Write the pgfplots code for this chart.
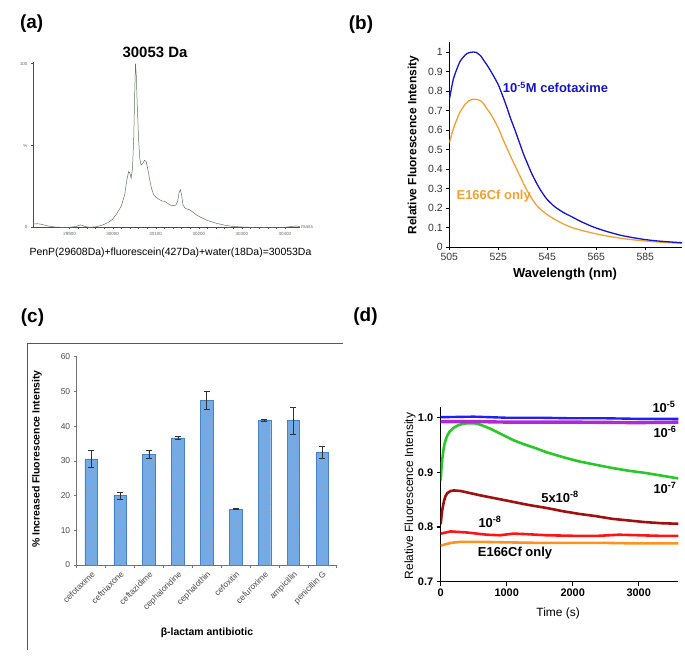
\documentclass[border=0pt]{standalone}
\usepackage{pgfplots}
\pgfplotsset{compat=1.18}
\usetikzlibrary{patterns.meta}
\usepackage{fontspec}
\setmainfont{Liberation Sans}
\definecolor{msgreen}{RGB}{90,120,90}
\definecolor{bblue}{RGB}{20,20,200}
\definecolor{borange}{RGB}{245,160,48}
\definecolor{barfill}{RGB}{115,172,232}
\definecolor{bardraw}{RGB}{70,130,200}
\definecolor{dblue}{RGB}{30,30,255}
\definecolor{dmag}{RGB}{180,40,210}
\definecolor{dgreen}{RGB}{40,200,40}
\definecolor{dred}{RGB}{160,16,16}
\definecolor{red2}{RGB}{255,20,20}
\definecolor{dorange}{RGB}{255,145,30}
\begin{document}
\begin{tikzpicture}
\useasboundingbox (0,0) rectangle (685bp,-660bp);
% ---------------- panel labels
\node[font=\bfseries\fontsize{19}{22}\selectfont] at (31.7bp,-24bp) {(a)};
\node[font=\bfseries\fontsize{19}{22}\selectfont] at (361bp,-25bp) {(b)};
\node[font=\bfseries\fontsize{19}{22}\selectfont] at (32.5bp,-318bp) {(c)};
\node[font=\bfseries\fontsize{19}{22}\selectfont] at (365.5bp,-317bp) {(d)};

% ---------------- panel (a)
\begin{axis}[
  at={(33bp,-227.3bp)}, anchor=south west, scale only axis,
  width=267bp, height=165.3bp,
  xmin=29815, xmax=30435, ymin=0, ymax=101,
  axis x line=bottom, axis y line=left,
  axis line style={-, black!70, line width=0.4pt},
  scaled x ticks=false, scaled y ticks=false,
  xtick={29900,30000,30100,30200,30300,30400},
  xticklabels={29900,30000,30100,30200,30300,30400},
  minor x tick num=4,
  ytick={0,50,100}, yticklabels={0,\%,100},
  tick align=outside, major tick length=2bp, minor tick length=1.5bp,
  every tick/.style={black!70, line width=0.3pt},
  ticklabel style={font=\fontsize{4.5}{5}\selectfont, text=black!60},
  xlabel={mass},
  xlabel style={at={(axis description cs:1,0)}, anchor=west, font=\fontsize{5}{6}\selectfont, text=black!60, inner sep=1bp},
]
\addplot[color=msgreen, line width=0.5pt] coordinates {
(29815,2.0) (29825,2.2) (29835,1.8) (29850,0.8) (29865,0.2) (29880,0) (29900,0)
(29915,0.5) (29925,1.5) (29935,0.6) (29945,0) (29960,0.3) (29975,1.2) (29990,3.0)
(30000,5.0) (30010,8.5) (30020,13) (30028,20) (30033,29) (30037,34) (30040,33)
(30043,30) (30046,36) (30049,55) (30051,80) (30053,100) (30055,92) (30057,75)
(30060,55) (30063,42) (30066,38) (30070,39) (30074,41) (30078,40) (30082,35)
(30086,29) (30090,24) (30095,20) (30100,18.5) (30108,17) (30115,16) (30120,16)
(30126,15) (30133,13.6) (30140,13.2) (30147,13.6) (30151,16) (30154,21) (30157,23)
(30160,20) (30163,14) (30167,12) (30172,11.2) (30178,10.8) (30185,9.5) (30195,7.5)
(30205,6) (30220,4.2) (30240,2.5) (30260,1.3) (30280,0.5) (30300,0.2) (30320,0)
(30400,0) (30415,0.5) (30425,0.8) (30435,0.5)};
\end{axis}
\node[font=\bfseries\fontsize{15}{18}\selectfont] at (155bp,-52bp) {30053 Da};
\node[font=\fontsize{10.5}{12}\selectfont] at (170.5bp,-253bp) {PenP(29608Da)+fluorescein(427Da)+water(18Da)=30053Da};

% ---------------- panel (b)
\begin{axis}[
  at={(449.3bp,-247bp)}, anchor=south west, scale only axis,
  width=232.7bp, height=204.75bp,
  xmin=505, xmax=600, ymin=0, ymax=1.05,
  axis x line=bottom, axis y line=left,
  axis line style={-, black, line width=0.6pt},
  xtick={505,525,545,565,585}, xticklabels={505,525,545,565,585},
  ytick={0,0.1,0.2,0.3,0.4,0.5,0.6,0.7,0.8,0.9,1},
  yticklabels={0,0.1,0.2,0.3,0.4,0.5,0.6,0.7,0.8,0.9,1},
  tick align=outside, major tick length=3bp,
  every tick/.style={black, line width=0.5pt},
  ticklabel style={font=\fontsize{10.5}{12}\selectfont, text=black!80},
  ylabel={Relative Fluorescence Intensity},
  ylabel style={at={(axis description cs:-0.155,0.498)}, anchor=center, font=\bfseries\fontsize{12}{14}\selectfont},
  xlabel={Wavelength (nm)},
  xlabel style={at={(axis description cs:0.497,-0.132)}, anchor=center, font=\bfseries\fontsize{13}{15}\selectfont},
]
\addplot[color=borange, line width=1.3pt, smooth, tension=0.4] coordinates {
(505,0.533) (506.5,0.60) (508,0.652) (509.5,0.695) (511.4,0.73) (513,0.75) (514.8,0.758)
(516,0.757) (517.5,0.752) (519,0.735) (520.2,0.712) (522,0.68) (523.6,0.644) (525,0.61)
(527,0.55) (530.4,0.455) (533.8,0.365) (535.5,0.32) (537.2,0.28) (539,0.243) (540.6,0.214)
(542.5,0.19) (545,0.166) (548,0.142) (551.6,0.118) (555,0.10) (558.5,0.087) (562,0.076)
(565,0.067) (570,0.055) (575,0.045) (580,0.037) (585,0.031) (590,0.026) (595,0.022) (600,0.019)};
\addplot[color=bblue, line width=1.3pt, smooth, tension=0.4] coordinates {
(505,0.755) (506.6,0.858) (508,0.91) (509.4,0.952) (510.8,0.975) (512.1,0.991) (513.5,0.998)
(514.8,1.0) (516,0.998) (516.8,0.991) (518,0.978) (518.9,0.96) (520.2,0.937) (521.6,0.909)
(523.3,0.872) (525,0.832) (526.7,0.778) (528.4,0.72) (530,0.66) (531.8,0.60) (533.5,0.54)
(535.2,0.48) (536.9,0.428) (538.6,0.378) (540.3,0.335) (542,0.297) (543.5,0.268) (545,0.243)
(548,0.207) (551.6,0.177) (555,0.155) (558.5,0.132) (562,0.112) (565,0.097) (570,0.077)
(575,0.06) (580,0.048) (585,0.038) (590,0.031) (595,0.026) (600,0.022)};
\end{axis}
\node[font=\bfseries\fontsize{13}{15}\selectfont, text=bblue] at (555.5bp,-87.6bp) {10\textsuperscript{-5}M cefotaxime};
\node[font=\bfseries\fontsize{13}{15}\selectfont, text=borange] at (493.7bp,-196bp) {E166Cf only};

% ---------------- panel (c)
\draw[black!65, line width=0.6pt] (27.7bp,-650bp) -- (27.7bp,-343.3bp) -- (343bp,-343.3bp);
\begin{axis}[
  at={(76.7bp,-565bp)}, anchor=south west, scale only axis,
  width=260bp, height=208.3bp,
  xmin=-0.5, xmax=8.5, ymin=0, ymax=60,
  axis x line=bottom, axis y line=left,
  axis line style={-, black!55, line width=0.5pt},
  ytick={0,10,20,30,40,50,60}, yticklabels={0,10,20,30,40,50,60},
  xtick={0,1,2,3,4,5,6,7,8},
  xticklabels={cefotaxime,ceftriaxone,ceftazidime,cephaloridine,cephalothin,cefoxitin,cefuroxime,ampicillin,penicillin G},
  major x tick style={draw=none},
  minor xtick={-0.5,0.5,1.5,2.5,3.5,4.5,5.5,6.5,7.5,8.5},
  tick align=outside, major tick length=3bp, minor tick length=3bp,
  every tick/.style={black!55, line width=0.5pt},
  ticklabel style={font=\fontsize{8.5}{10}\selectfont, text=black!70},
  x tick label style={rotate=45, anchor=north east, inner sep=1.5bp},
  ylabel={\% Increased Fluorescence Intensity},
  ylabel style={at={(axis description cs:-0.153,0.509)}, anchor=center, font=\bfseries\fontsize{10.5}{12}\selectfont},
  xlabel={β-lactam antibiotic},
  xlabel style={at={(axis description cs:0.501,-0.326)}, anchor=center, font=\bfseries\fontsize{10.5}{12}\selectfont},
]
\addplot[ybar, bar width=12.5bp, fill=barfill, draw=bardraw, line width=0.4pt,
  postaction={pattern={Lines[angle=45, distance=1.6pt, line width=0.35pt]}, pattern color=bardraw!70},
  error bars/.cd, y dir=both, y explicit,
  error bar style={black!80, line width=0.6pt},
  error mark options={rotate=90, mark size=3bp, black!80, line width=0.6pt}]
  coordinates {
  (0,30.6) +- (0,2.5)
  (1,20.0) +- (0,1.0)
  (2,31.9) +- (0,1.2)
  (3,36.6) +- (0,0.35)
  (4,47.4) +- (0,2.65)
  (5,16.1) +- (0,0.15)
  (6,41.7) +- (0,0.4)
  (7,41.6) +- (0,3.95)
  (8,32.4) +- (0,1.65)};
\end{axis}

% ---------------- panel (d)
\begin{axis}[
  at={(440.7bp,-581.7bp)}, anchor=south west, scale only axis,
  width=237.6bp, height=174.9bp,
  xmin=0, xmax=3600, ymin=0.7, ymax=1.02,
  axis x line=bottom, axis y line=left,
  axis line style={-, black, line width=1.5pt},
  xtick={0,1000,2000,3000}, xticklabels={0,1000,2000,3000},
  ytick={0.7,0.8,0.9,1.0}, yticklabels={0.7,0.8,0.9,1.0},
  tick align=outside, major tick length=4bp,
  every tick/.style={black, line width=1.2pt},
  ticklabel style={font=\bfseries\fontsize{11}{13}\selectfont},
  ylabel={Relative Fluorescence Intensity},
  ylabel style={at={(axis description cs:-0.129,0.49)}, anchor=center, font=\fontsize{12}{14}\selectfont},
  xlabel={Time (s)},
  xlabel style={at={(axis description cs:0.494,-0.179)}, anchor=center, font=\fontsize{12}{14}\selectfont},
]
\addplot[color=dorange, line width=2.6pt] coordinates {
(0,0.766) (150,0.771) (300,0.773) (600,0.773) (1000,0.772) (1500,0.771) (2000,0.771)
(2500,0.771) (3000,0.770) (3600,0.770)};
\addplot[color=red2, line width=2.6pt] coordinates {
(0,0.788) (150,0.792) (400,0.790) (700,0.786) (900,0.785) (1100,0.788) (1300,0.787)
(1600,0.785) (2000,0.784) (2400,0.784) (2700,0.786) (3000,0.785) (3300,0.784) (3600,0.784)};
\addplot[color=dred, line width=2.6pt] coordinates {
(0,0.805) (10,0.818) (25,0.832) (45,0.845) (70,0.856) (100,0.862) (150,0.866) (200,0.867)
(300,0.866) (450,0.862) (600,0.858) (850,0.852) (1100,0.846) (1350,0.840) (1600,0.835)
(1850,0.829) (2100,0.824) (2350,0.820) (2600,0.815) (2850,0.812) (3100,0.809) (3350,0.807) (3600,0.806)};
\addplot[color=dgreen, line width=2.6pt] coordinates {
(0,0.885) (10,0.905) (25,0.925) (40,0.940) (60,0.953) (90,0.965) (130,0.974) (190,0.981)
(260,0.986) (340,0.989) (420,0.990) (500,0.990) (580,0.988) (650,0.985) (750,0.980)
(850,0.974) (1000,0.965) (1100,0.959) (1250,0.952) (1400,0.946) (1600,0.937) (1850,0.928)
(2100,0.920) (2350,0.914) (2600,0.908) (2850,0.903) (3100,0.899) (3350,0.894) (3600,0.889)};
\addplot[color=dmag, line width=3.4pt] coordinates {
(0,0.993) (500,0.993) (1000,0.992) (2000,0.992) (3000,0.991) (3600,0.992)};
\addplot[color=dblue, line width=2.4pt] coordinates {
(0,1.001) (500,1.002) (1000,1.000) (1500,1.000) (2000,0.999) (2500,0.999) (3000,0.998) (3600,0.998)};
\end{axis}
\begin{scope}[every node/.style={font=\bfseries\fontsize{13}{15}\selectfont}]
\node at (664bp,-407bp) {10\textsuperscript{-5}};
\node at (665bp,-432bp) {10\textsuperscript{-6}};
\node at (665bp,-488bp) {10\textsuperscript{-7}};
\node at (560bp,-497bp) {5x10\textsuperscript{-8}};
\node at (490bp,-522bp) {10\textsuperscript{-8}};
\node at (515bp,-553bp) {E166Cf only};
\end{scope}
\end{tikzpicture}
\end{document}
